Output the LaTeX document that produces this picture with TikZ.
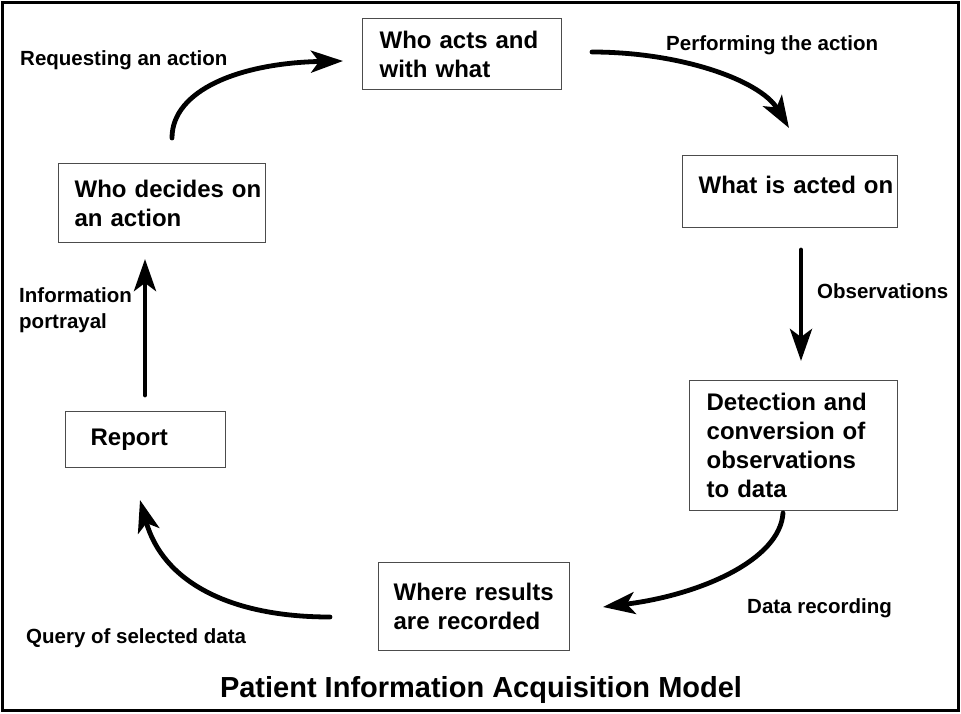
\documentclass[tikz,border=0pt]{standalone}
\usepackage{fontspec}
\setmainfont{Liberation Sans}
\usetikzlibrary{arrows.meta}

\tikzset{
  blok/.style={draw=black!70, line width=1.3pt, anchor=north west, inner sep=0pt,
    text width=#1, minimum width=#1, align=left, font=\fontsize{24}{29}\selectfont\bfseries},
  lpad/.style={execute at begin node={\leftskip=#1pt}},
  lbl/.style={anchor=base west, inner sep=0pt, font=\fontsize{20.5}{26}\selectfont\bfseries},
  tok/.style={line width=4.8pt, line cap=round, -{Stealth[length=32pt,width=22pt,inset=8pt]}}
}

\begin{document}
\begin{tikzpicture}[x=1pt,y=-1pt]
	            % Rám
	            \useasboundingbox (0,0) rectangle (961,713);
	            \draw[line width=3pt] (2,2) rectangle (958.5,710.5);

	            % Bloky
	            \node[blok=199pt, minimum height=71pt, lpad=17] (acts) at (362,18) {Who acts and\\with what};
	            \node[blok=215pt, minimum height=72pt, lpad=16, text depth=14pt] (actedon) at (682,155) {What is acted on};
	            \node[blok=208pt, minimum height=130pt, lpad=17] (detect) at (689,380) {Detection and\\conversion of\\observations\\to data};
	            \node[blok=191pt, minimum height=88pt, lpad=15] (recorded) at (378,562) {Where results\\are recorded};
	            \node[blok=160pt, minimum height=56pt, lpad=25] (report) at (65,411) {Report};
	            \node[blok=207pt, minimum height=79pt, lpad=16] (decides) at (58,163) {Who decides on\\an action};

	            % Popisky
	            \node[lbl] (lreq) at (20,65) {Requesting an action};
	            \node[lbl] (lperf) at (666,50) {Performing the action};
	            \node[lbl] (lobs) at (817,298) {Observations};
	            \node[lbl] (ldata) at (747,613) {Data recording};
	            \node[lbl] (lquery) at (26,643) {Query of selected data};
	            \node[lbl, align=left, anchor=north west] (linfo) at (19,287) {Information\\portrayal};
	            \node[anchor=base, inner sep=0pt, font=\fontsize{29}{35}\selectfont\bfseries] (title) at (481,697) {Patient Information Acquisition Model};

	            % Konce šipek
	            \coordinate (req1) at (172,138);
	            \coordinate (req2) at (343,61);
	            \coordinate (perf1) at (592,52);
	            \coordinate (perf2) at (789,128);
	            \coordinate (obs1) at (801,250);
	            \coordinate (obs2) at (801,361);
	            \coordinate (data1) at (783,513);
	            \coordinate (data2) at (603,607);
	            \coordinate (query1) at (330,617);
	            \coordinate (query2) at (140,500);
	            \coordinate (info1) at (145,395);
	            \coordinate (info2) at (145,259);

	            % Šipky
	            \draw[tok] (req1) .. controls (172,90) and (240,63) .. (req2);
	            \draw[tok] (perf1) .. controls (680,52) and (760,80) .. (perf2);
	            \draw[tok] (obs1) -- (obs2);
	            \draw[tok] (data1) .. controls (780,560) and (700,595) .. (data2);
	            \draw[tok] (query1) .. controls (230,617) and (163,582) .. (query2);
	            \draw[tok] (info1) -- (info2);
	        \end{tikzpicture}
\end{document}
